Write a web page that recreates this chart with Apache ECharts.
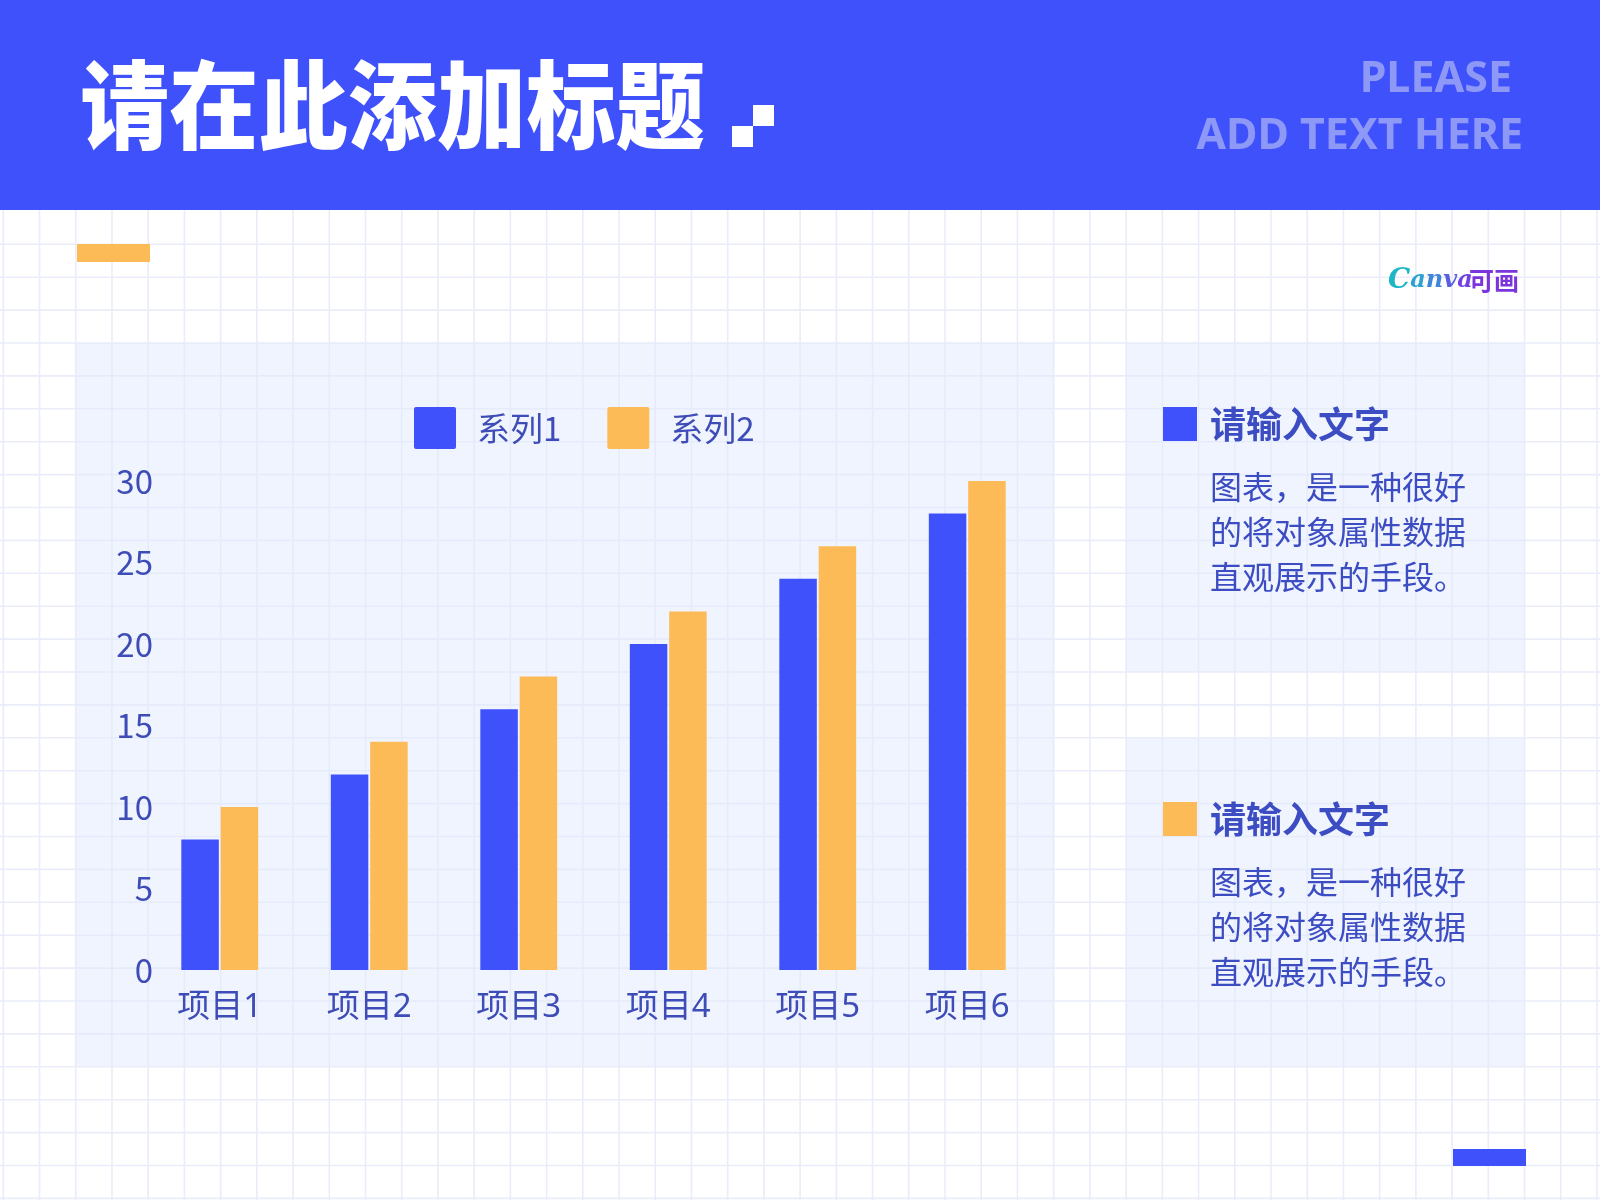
<!DOCTYPE html>
<html><head><meta charset="utf-8">
<script src="https://cdn.jsdelivr.net/npm/echarts@6/dist/echarts.min.js"></script>
<style>html,body{margin:0;padding:0;background:#fff}#c{width:1600px;height:1200px}</style>
</head><body><div id="c"></div>
<script>
const categories = ['项目1', '项目2', '项目3', '项目4', '项目5', '项目6'];
const seriesNames = ['系列1', '系列2'];
const series1 = [8, 12, 16, 20, 24, 28];
const series2 = [10, 14, 18, 22, 26, 30];
const yMin = 0, yMax = 30, yStep = 5;
const titleText = '请在此添加标题';
const subtitleLines = ['PLEASE', 'ADD TEXT HERE'];
const panelHeading = '请输入文字';
const panelBody = ['图表，是一种很好', '的将对象属性数据', '直观展示的手段。'];

const BLUE = '#3F51FB', ORANGE = '#FDBB58', INK = '#3D4CB6', INK2 = '#3C4CC2';
const FONT = '"Noto Sans CJK SC", "Noto Sans", sans-serif';
const LFONT = '"Noto Sans", "Noto Sans CJK SC", sans-serif';

const chart = echarts.init(document.getElementById('c'), null, {renderer: 'canvas'});
const g = [];
g.push({type: 'rect', z: 0, shape: {x: 0, y: 0, width: 1600, height: 1200}, style: {fill: '#ffffff'}});
// background grid
for (let k = 0; k <= 44; k++) {
  const x = 3.3 + 36.22 * k;
  g.push({type: 'line', z: 1, shape: {x1: x, y1: 210, x2: x, y2: 1200}, style: {stroke: '#EAEDF9', lineWidth: 1.6}});
}
for (let k = 0; k <= 29; k++) {
  const y = 244.3 + 32.9 * k;
  g.push({type: 'line', z: 1, shape: {x1: 0, y1: y, x2: 1600, y2: y}, style: {stroke: '#EAEDF9', lineWidth: 1.6}});
}
// header
g.push({type: 'rect', z: 2, shape: {x: 0, y: 0, width: 1600, height: 210}, style: {fill: BLUE}});
g.push({type: 'text', z: 3, x: 80, y: 105, scaleX: 0.93,
  style: {text: titleText, x: 0, y: 0, fill: '#ffffff', fontSize: 96, fontWeight: 900, fontFamily: FONT,
    align: 'left', verticalAlign: 'middle', textAlign: 'left', textVerticalAlign: 'middle'}});
g.push({type: 'rect', z: 3, shape: {x: 732, y: 126, width: 21, height: 21}, style: {fill: '#ffffff'}});
g.push({type: 'rect', z: 3, shape: {x: 753, y: 105, width: 21, height: 21}, style: {fill: '#ffffff'}});
g.push({type: 'text', z: 3, style: {text: subtitleLines[0], x: 1512, y: 80, fill: '#8E99F7', fontSize: 43, fontWeight: 'bold', fontFamily: LFONT,
  align: 'right', verticalAlign: 'middle', textAlign: 'right', textVerticalAlign: 'middle'}});
g.push({type: 'text', z: 3, style: {text: subtitleLines[1], x: 1523, y: 137, fill: '#8E99F7', fontSize: 43, fontWeight: 'bold', fontFamily: LFONT,
  align: 'right', verticalAlign: 'middle', textAlign: 'right', textVerticalAlign: 'middle'}});
// decorations
g.push({type: 'rect', z: 3, shape: {x: 77, y: 244, width: 73, height: 18}, style: {fill: ORANGE}});
g.push({type: 'rect', z: 3, shape: {x: 1453, y: 1149, width: 73, height: 17}, style: {fill: BLUE}});
// logo
const LOGOF = '"DejaVu Serif", serif';
g.push({type: 'text', z: 3, style: {text: '{a|C}{b|a}{c|n}{d|v}{e|a}', x: 1388, y: 281,
  fontSize: 25, fontStyle: 'italic', fontFamily: LOGOF,
  rich: {
    a: {fill: '#1FB7C7', fontSize: 28, fontStyle: 'italic', fontWeight: 'bold', fontFamily: LOGOF},
    b: {fill: '#2AA3D0', fontSize: 24, fontStyle: 'italic', fontWeight: 'bold', fontFamily: LOGOF},
    c: {fill: '#3F86DA', fontSize: 24, fontStyle: 'italic', fontWeight: 'bold', fontFamily: LOGOF},
    d: {fill: '#5A5FE0', fontSize: 24, fontStyle: 'italic', fontWeight: 'bold', fontFamily: LOGOF},
    e: {fill: '#7040E4', fontSize: 24, fontStyle: 'italic', fontWeight: 'bold', fontFamily: LOGOF}
  },
  align: 'left', verticalAlign: 'middle', textAlign: 'left', textVerticalAlign: 'middle'}});
g.push({type: 'text', z: 3, style: {text: '可画', x: 1469, y: 280, fontSize: 25, fontWeight: 'bold', fontFamily: FONT, fill: '#7B35DC',
  align: 'left', verticalAlign: 'middle', textAlign: 'left', textVerticalAlign: 'middle'}});
// panels
const PANEL = 'rgba(226,233,254,0.5)';
g.push({type: 'rect', z: 2, shape: {x: 76, y: 343, width: 978, height: 723}, style: {fill: PANEL}});
[[343, 329, BLUE, 0], [738, 328, ORANGE, 395]].forEach(([py, ph, col, off]) => {
  g.push({type: 'rect', z: 2, shape: {x: 1126, y: py, width: 399, height: ph}, style: {fill: PANEL}});
  g.push({type: 'rect', z: 3, shape: {x: 1163, y: 407 + off, width: 34, height: 34}, style: {fill: col}});
  g.push({type: 'text', z: 3, style: {text: panelHeading, x: 1210, y: 424 + off, fill: INK2, fontSize: 36, fontWeight: 'bold', fontFamily: FONT,
    align: 'left', verticalAlign: 'middle', textAlign: 'left', textVerticalAlign: 'middle'}});
  panelBody.forEach((t, i) => {
    g.push({type: 'text', z: 3, style: {text: t, x: 1210, y: 487 + off + 45 * i, fill: INK2, fontSize: 32, fontFamily: FONT,
      align: 'left', verticalAlign: 'middle', textAlign: 'left', textVerticalAlign: 'middle'}});
  });
});

chart.setOption({
  animation: false,
  textStyle: {fontFamily: FONT},
  graphic: {elements: g},
  legend: {
    z: 10, left: 414, top: 407, padding: 0, itemWidth: 42, itemHeight: 42, itemGap: 46,
    icon: 'path://M2,0 L40,0 Q42,0 42,2 L42,40 Q42,42 40,42 L2,42 Q0,42 0,40 L0,2 Q0,0 2,0 Z',
    textStyle: {fontSize: 33, color: INK, fontFamily: FONT, padding: [0, 0, 0, 16]},
    data: seriesNames
  },
  grid: {left: 145, top: 481, width: 897, height: 489, containLabel: false},
  xAxis: {
    type: 'category', data: categories, z: 10,
    axisLine: {show: false}, axisTick: {show: false}, splitLine: {show: false},
    axisLabel: {fontSize: 33, color: INK, margin: 21, fontFamily: LFONT}
  },
  yAxis: {
    type: 'value', min: yMin, max: yMax, interval: yStep, z: 10,
    axisLine: {show: false}, axisTick: {show: false}, splitLine: {show: false},
    axisLabel: {fontSize: 33, color: INK, margin: -8, fontFamily: FONT}
  },
  series: [
    {name: seriesNames[0], type: 'bar', z: 10, data: series1, barWidth: 37.5, barGap: '5%', itemStyle: {color: BLUE}},
    {name: seriesNames[1], type: 'bar', z: 10, data: series2, barWidth: 37.5, barGap: '5%', itemStyle: {color: ORANGE}}
  ]
});
</script></body></html>
